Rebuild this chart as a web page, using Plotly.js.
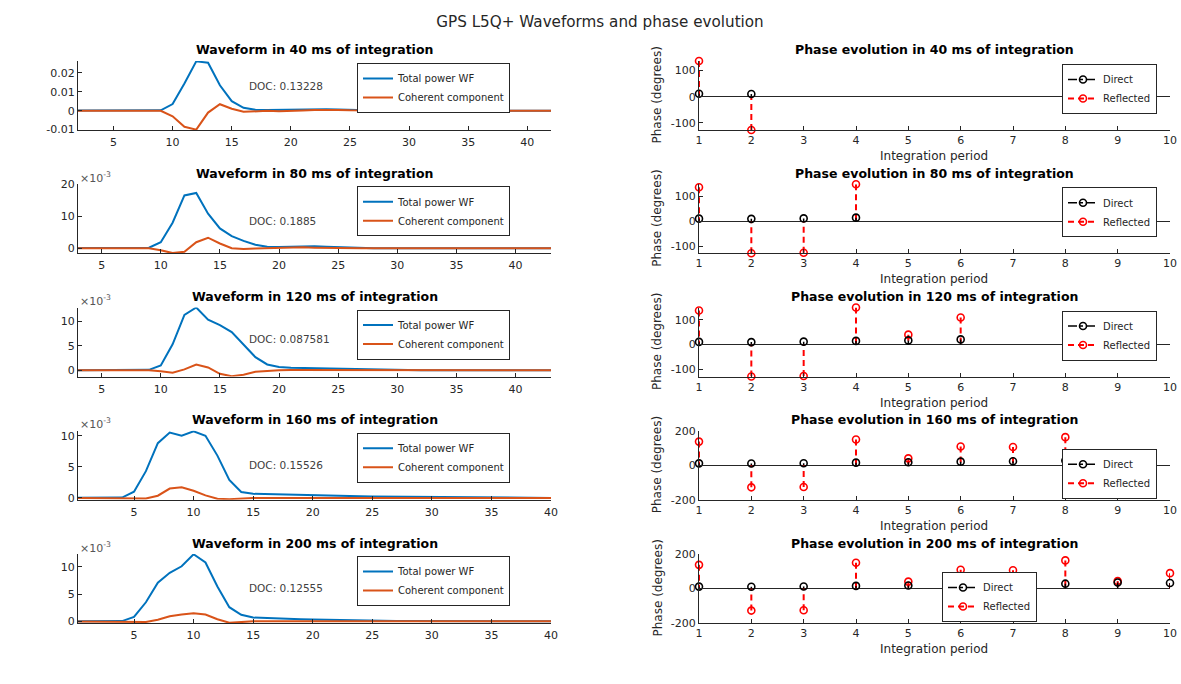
<!DOCTYPE html>
<html><head><meta charset="utf-8">
<script src="https://cdn.plot.ly/plotly-3.0.1.min.js"></script>
<style>html,body{margin:0;padding:0;background:#fff;}#chart{width:1181px;height:684px;}</style>
</head><body><div id="chart"></div>
<script>
// ---------- DATA ----------
const delayA = [0,1,2,3,4,5,6,7,8,9,10,11,12,13,14,15,16,17,18,19,20,21,22,23,24,25,26,27,28,29,30,31,32,33,34,35,36,37,38,39,40,41,42,43,44,45];
const delayB = [0,1,2,3,4,5,6,7,8,9,10,11,12,13,14,15,16,17,18,19,20,21,22,23,24,25,26,27,28,29,30,31,32,33,34,35,36,37,38,39,40];

// 40 ms (absolute units)
const tp40 = [0,0,0,0,0,0,0,0,0,0.0002,0.0035,0.0143,0.0260,0.0253,0.0134,0.0050,0.0015,0.0005,0.0004,0.0005,0.0006,0.0007,0.0008,0.0007,0.0006,0.0004,0.0002,0.0001,0,0,0,0,0,0,0,0,0,0,0,0,0,0,0,0,0,0];
const cc40 = [0,0,0,0,0,0,0,0,0,-0.0001,-0.0030,-0.0085,-0.0100,-0.0010,0.0034,0.0010,-0.0006,-0.0002,-0.0001,-0.0003,-0.0002,0.0001,0.0004,0.0005,0.0004,0.0002,0.0001,0,0,0,0,0,0,0,0,0,0,0,0,0,0,0,0,0,0,0];
// 80 ms (x 1e-3)
const tp80 = [0,0,0,0,0,0,0,0,0,0.2,1.9,8.0,16.5,17.3,10.8,6.2,3.8,2.3,1.1,0.5,0.4,0.5,0.6,0.6,0.5,0.35,0.2,0.1,0.05,0,0,0,0,0,0,0,0,0,0,0,0,0,0,0,0,0];
const cc80 = [0,0,0,0,0,0,0,0,0,0,-0.6,-1.5,-1.1,1.9,3.3,1.5,0,-0.2,-0.1,0,0.2,0.3,0.3,0.2,0.1,0,0,0,0,0,0,0,0,0,0,0,0,0,0,0,0,0,0,0,0,0];
// 120 ms (x 1e-3)
const tp120 = [0,0,0,0,0,0,0,0,0,0.1,1.0,5.3,11.3,12.8,10.3,9.2,7.8,5.3,2.7,1.2,0.7,0.55,0.5,0.5,0.45,0.35,0.25,0.15,0.1,0.05,0,0,0,0,0,0,0,0,0,0,0,0,0,0,0,0];
const cc120 = [0,0,0,0,0,0,0,0,0,0,-0.2,-0.5,0.2,1.2,0.6,-0.7,-1.2,-0.9,-0.3,-0.1,0,0.05,0.05,0.05,0.03,0.02,0,0,0,0,0,0,0,0,0,0,0,0,0,0,0,0,0,0,0,0];
// 160 ms (x 1e-3)
const tp160 = [0,0,0,0,0.05,1.0,4.3,8.8,10.5,10.0,10.7,10.0,6.8,2.9,0.95,0.65,0.6,0.5,0.45,0.4,0.35,0.32,0.3,0.27,0.25,0.22,0.2,0.18,0.15,0.12,0.1,0.09,0.08,0.07,0.06,0.05,0.04,0.03,0.02,0.01,0];
const cc160 = [0,0,0,0,0,0,-0.1,0.35,1.5,1.7,1.15,0.4,-0.15,-0.2,-0.05,0,0,0,0,0,0,0,0,0,0,0,0,0,0,0,0,0,0,0,0,0,0,0,0,0,0];
// 200 ms (x 1e-3)
const tp200 = [0,0,0,0,0.05,0.8,3.5,7.1,8.9,10.1,12.3,10.8,6.4,2.6,1.2,0.7,0.6,0.55,0.5,0.4,0.35,0.3,0.2,0.15,0.12,0.1,0.08,0.06,0.05,0.03,0.02,0,0,0,0,0,0,0,0,0,0];
const cc200 = [0,0,0,0,0,0,-0.1,0.3,0.95,1.25,1.5,1.25,0.4,-0.25,-0.1,0,0,0,0,0,0,0,0,0,0,0,0,0,0,0,0,0,0,0,0,0,0,0,0,0,0];

const integrationMs = [40, 80, 120, 160, 200];
const docValues = ['0.13228', '0.1885', '0.087581', '0.15526', '0.12555'];
const periodsShown = [2, 4, 6, 8, 10];

const periods = [1,2,3,4,5,6,7,8,9,10];
const phaseDirect = [11, 10, 12, 15, 17, 21, 23, 28, 35, 32];
const phaseReflected = [137, -128, -126, 149, 40, 109, 106, 163, 43, 89];

const waveX = [delayA, delayA, delayA, delayB, delayB];
const waveTP = [tp40, tp80, tp120, tp160, tp200];
const waveCC = [cc40, cc80, cc120, cc160, cc200];
const waveXRange = [[2,42],[3,43],[3,43],[0.3,40],[0.3,40]];
const waveYRange = [[-0.0102,0.0262],[-1.55,20],[-1.25,12.8],[-0.3,10.8],[-0.3,12.35]];
const waveYTicks = [[-0.01,0,0.01,0.02],[0,10,20],[0,5,10],[0,5,10],[0,5,10]];
const waveYTickText = [['-0.01','0','0.01','0.02'],['0','10','20'],['0','5','10'],['0','5','10'],['0','5','10']];
const waveXTicks = [5,10,15,20,25,30,35,40];

// ---------- LAYOUT HELPERS ----------
const W = 1181, H = 684;
const FONT = 'DejaVu Sans';
const INK = '#262626';
const fx = p => p / W;
const fy = p => 1 - p / H;
const rowTop = i => 61 + i * 123.25;
const ROWH = 69;
const LX = [78, 551], RX = [699, 1170];

function baseAxis() {
  return {showline:true, linecolor:INK, linewidth:1, ticks:'inside', ticklen:4, tickwidth:1,
    tickcolor:INK, showgrid:false, zeroline:false, automargin:false, fixedrange:true,
    tickfont:{family:FONT, size:11, color:INK}};
}
function legendBox(x, y, xanchor, yanchor) {
  return {x:fx(x), y:fy(y), xref:'paper', yref:'paper', xanchor:xanchor, yanchor:yanchor,
    bgcolor:'#ffffff', bordercolor:INK, borderwidth:1, tracegroupgap:0, itemwidth:30,
    font:{family:FONT, size:10, color:INK}};
}

const traces = [];
const annotations = [];
const layout = {
  width:W, height:H, margin:{l:0,r:0,t:0,b:0}, paper_bgcolor:'#fff', plot_bgcolor:'#fff',
  showlegend:true,
  title:{text:'GPS L5Q+ Waveforms and phase evolution', font:{family:FONT, size:15.2, color:INK},
    x:fx(600), xanchor:'center', xref:'container', y:fy(22), yanchor:'middle', yref:'container'}
};

for (let i = 0; i < 5; i++) {
  const top = rowTop(i), bot = top + ROWH;
  const kL = 2*i + 1, kR = 2*i + 2;
  const sfx = k => (k === 1 ? '' : String(k));
  const legL = 'legend' + sfx(kL), legR = 'legend' + sfx(kR);

  // ---- left: waveform ----
  const xa = baseAxis();
  xa.domain = [fx(LX[0]), fx(LX[1])]; xa.range = waveXRange[i]; xa.anchor = 'y' + sfx(kL);
  xa.tickmode = 'array'; xa.tickvals = waveXTicks; xa.ticktext = waveXTicks.map(String);
  xa.ticklabelstandoff = 2;
  const ya = baseAxis();
  ya.domain = [fy(bot), fy(top)]; ya.range = waveYRange[i]; ya.anchor = 'x' + sfx(kL);
  ya.tickmode = 'array'; ya.tickvals = waveYTicks[i]; ya.ticktext = waveYTickText[i];
  layout['xaxis' + sfx(kL)] = xa; layout['yaxis' + sfx(kL)] = ya;

  traces.push({type:'scatter', mode:'lines', x:waveX[i], y:waveTP[i], name:'Total power WF',
    xaxis:'x'+sfx(kL), yaxis:'y'+sfx(kL), legend:legL, line:{color:'#0072BD', width:2}});
  traces.push({type:'scatter', mode:'lines', x:waveX[i], y:waveCC[i], name:'Coherent component',
    xaxis:'x'+sfx(kL), yaxis:'y'+sfx(kL), legend:legL, line:{color:'#D95319', width:2}});
  layout[legL] = legendBox(357, top + 2, 'left', 'top');

  annotations.push({text:'<b>Waveform in ' + integrationMs[i] + ' ms of integration</b>', xref:'paper', yref:'paper',
    x:fx((LX[0]+LX[1])/2), y:fy(top - 11), xanchor:'center', yanchor:'middle', showarrow:false,
    font:{family:FONT, size:12.5, color:'#000'}});
  if (i > 0) {
    annotations.push({text:'×10<sup>-3</sup>', xref:'paper', yref:'paper', x:fx(LX[0]), y:fy(top - 7),
      xanchor:'left', yanchor:'middle', showarrow:false, font:{family:FONT, size:11, color:'#555'}});
  }
  annotations.push({text:'DOC: ' + docValues[i], xref:'paper', yref:'y'+sfx(kL), x:fx(247),
    y:Math.max(...waveTP[i]) / 2, xanchor:'left', yanchor:'middle', showarrow:false,
    font:{family:FONT, size:10.5, color:'#404040'}});

  // ---- right: phase stems ----
  const n = periodsShown[i];
  const d = phaseDirect.slice(0, n), r = phaseReflected.slice(0, n), p = periods.slice(0, n);
  const xr = baseAxis();
  xr.domain = [fx(RX[0]), fx(RX[1])]; xr.range = [1, 10]; xr.anchor = 'y' + sfx(kR);
  xr.tickmode = 'array'; xr.tickvals = periods; xr.ticktext = periods.map(String);
  const yr = baseAxis();
  yr.domain = [fy(bot), fy(top)]; yr.anchor = 'x' + sfx(kR);
  yr.zeroline = true; yr.zerolinecolor = INK; yr.zerolinewidth = 1;
  if (i < 3) {
    yr.range = [Math.min(...d, ...r), Math.max(...d, ...r)];
    yr.tickvals = [-100, 0, 100]; yr.ticktext = ['-100', '0', '100'];
  } else {
    yr.range = [-200, 200];
    yr.tickvals = [-200, 0, 200]; yr.ticktext = ['-200', '0', '200'];
  }
  yr.tickmode = 'array';
  layout['xaxis' + sfx(kR)] = xr; layout['yaxis' + sfx(kR)] = yr;

  function stem(vals, color, dash, width, name, rank) {
    const sx = [], sy = [], sc = [];
    vals.forEach((v, j) => { sx.push(p[j], p[j], null); sy.push(v, 0, null);
      sc.push(color, 'rgba(0,0,0,0)', 'rgba(0,0,0,0)'); });
    return {type:'scatter', mode:'lines+markers', x:sx, y:sy, name:name, legend:legR, legendrank:rank,
      xaxis:'x'+sfx(kR), yaxis:'y'+sfx(kR), cliponaxis:false, connectgaps:false,
      line:{color:color, dash:dash, width:width},
      marker:{symbol:'circle-open', size:7, color:sc, line:{width:1.6}}};
  }
  traces.push(stem(r, '#FF0000', '6px,4px', 2, 'Reflected', 2));
  traces.push(stem(d, '#000000', 'dashdot', 1.5, 'Direct', 1));

  if (i < 3) layout[legR] = legendBox(1157, top + 3, 'right', 'top');
  else if (i === 3) layout[legR] = legendBox(1157, bot - 1, 'right', 'bottom');
  else layout[legR] = legendBox(1037, bot - 1, 'right', 'bottom');

  annotations.push({text:'<b>Phase evolution in ' + integrationMs[i] + ' ms of integration</b>', xref:'paper', yref:'paper',
    x:fx((RX[0]+RX[1])/2), y:fy(top - 11), xanchor:'center', yanchor:'middle', showarrow:false,
    font:{family:FONT, size:12.5, color:'#000'}});
  annotations.push({text:'Integration period', xref:'paper', yref:'paper', x:fx((RX[0]+RX[1])/2), y:fy(bot + 26),
    xanchor:'center', yanchor:'middle', showarrow:false, font:{family:FONT, size:12, color:INK}});
  annotations.push({text:'Phase (degrees)', xref:'paper', yref:'paper', x:fx(657), y:fy(top + ROWH/2),
    xanchor:'center', yanchor:'middle', textangle:-90, showarrow:false, font:{family:FONT, size:12, color:INK}});
}
layout.annotations = annotations;

Plotly.newPlot('chart', traces, layout, {displayModeBar:false, staticPlot:true});
</script>
</body></html>
